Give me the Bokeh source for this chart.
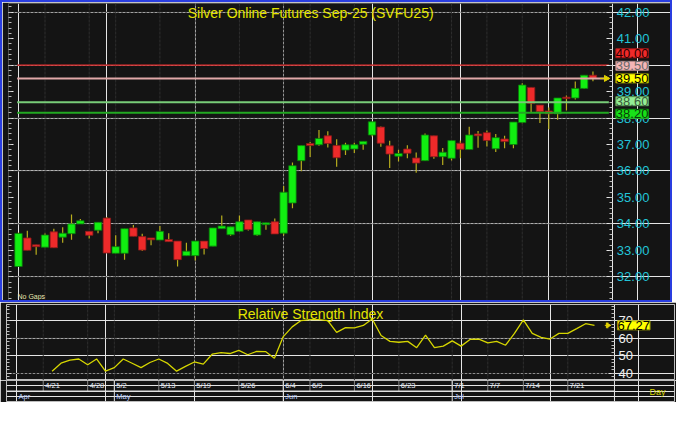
import numpy as np
from bokeh.plotting import figure
from bokeh.models import (Range1d, LinearAxis, FixedTicker, NumeralTickFormatter,
                          Label, ColumnDataSource, CustomJSTickFormatter)
from bokeh.layouts import column
from bokeh.embed import file_html
from bokeh.resources import INLINE
from bokeh.core.properties import value

# ---------------- data ----------------
title_text = "Silver Online Futures Sep-25 (SVFU25)"
rsi_title = "Relative Strength Index"

opens = [32.39, 33.47, 33.21, 33.12, 33.70, 33.50, 33.63, 34.00, 33.72, 33.76,
         34.22, 32.89, 32.89, 33.85, 33.52, 33.47, 33.39, 33.41, 33.35, 32.80,
         32.80, 33.35, 33.16, 33.82, 33.59, 33.72, 34.15, 33.58, 33.97, 34.08,
         33.65, 34.79, 36.39, 37.04, 36.99, 37.33, 36.96, 36.79, 36.83, 37.01,
         37.36, 37.66, 36.95, 36.56, 36.83, 36.49, 36.39, 37.33, 36.54, 36.48,
         37.05, 36.81, 37.40, 37.45, 36.84, 37.21, 37.00, 37.83, 39.16, 38.49,
         38.27, 38.16, 38.79, 38.76, 39.12, 39.62]
highs = [33.68, 33.74, 33.21, 33.64, 33.82, 33.87, 34.36, 34.19, 33.72, 34.06,
         34.26, 33.57, 33.82, 33.96, 33.63, 33.47, 33.92, 33.65, 33.35, 33.29,
         33.35, 33.35, 33.85, 34.32, 33.89, 34.32, 34.15, 34.08, 34.04, 34.20,
         35.43, 36.32, 36.96, 37.10, 37.55, 37.50, 37.20, 37.07, 37.07, 37.12,
         37.86, 37.68, 37.14, 36.80, 36.97, 36.70, 37.42, 37.33, 36.87, 37.15,
         37.15, 37.67, 37.51, 37.53, 37.40, 37.33, 37.85, 39.32, 39.16, 38.49,
         38.40, 38.76, 38.85, 39.38, 39.62, 39.76]
lows = [32.38, 33.00, 32.83, 33.12, 33.10, 33.29, 33.40, 34.00, 33.45, 33.65,
        32.90, 32.89, 32.65, 33.53, 32.98, 33.19, 33.39, 33.33, 32.39, 32.80,
        32.62, 32.84, 33.16, 33.82, 33.55, 33.70, 33.75, 33.55, 33.78, 33.62,
        33.56, 34.59, 35.99, 36.53, 36.95, 36.89, 36.16, 36.60, 36.68, 36.80,
        37.30, 36.92, 36.11, 36.36, 36.48, 35.93, 36.39, 36.46, 36.23, 36.40,
        36.48, 36.81, 36.88, 36.93, 36.72, 36.86, 36.86, 37.80, 38.23, 37.81,
        37.58, 37.94, 38.29, 38.70, 39.10, 39.39]
closes = [33.64, 33.00, 33.14, 33.58, 33.10, 33.65, 34.00, 34.12, 33.57, 34.06,
          32.90, 33.14, 33.82, 33.53, 33.01, 33.40, 33.72, 33.33, 32.65, 32.97,
          33.35, 33.07, 33.85, 33.92, 33.89, 34.08, 33.79, 34.08, 34.04, 33.62,
          35.20, 36.20, 36.96, 36.96, 37.23, 37.04, 36.50, 36.99, 36.99, 37.12,
          37.86, 37.05, 36.64, 36.66, 36.67, 36.30, 37.36, 36.54, 36.71, 37.15,
          36.82, 37.36, 37.33, 37.15, 37.26, 37.11, 37.85, 39.25, 38.56, 38.24,
          38.16, 38.76, 38.74, 39.12, 39.62, 39.50]

rsi_first_index = 4
rsi_values = [41.3, 45.8, 47.6, 48.2, 44.9, 48.2, 41.3, 43.3, 48.2, 45.8,
              43.3, 46.2, 48.2, 45.7, 41.3, 44.0, 46.5, 45.3, 50.9, 51.8,
              51.3, 53.1, 50.6, 52.5, 52.4, 48.6, 60.9, 66.4, 70.0, 70.5,
              70.5, 70.0, 63.3, 66.0, 65.8, 67.2, 70.9, 61.5, 58.2, 57.7,
              58.2, 54.6, 61.8, 54.6, 55.5, 58.5, 55.5, 59.3, 59.5, 57.3,
              58.2, 56.0, 62.7, 70.4, 62.7, 60.5, 59.5, 62.7, 62.7, 65.4,
              68.2, 67.27]

date_tick_idx = [3, 8, 11, 16, 20, 25, 30, 33, 38, 43, 49, 53, 57, 62]
date_tick_labels = ["4/21", "4/28", "5/2", "5/13", "5/19", "5/26", "6/4", "6/9",
                    "6/16", "6/23", "7/1", "7/7", "7/14", "7/21"]
month_idx = [0, 11, 30, 49]
month_labels = ["Apr", "May", "Jun", "Jul"]

price_ticks = [32, 33, 34, 35, 36, 37, 38, 39, 40, 41, 42]
price_grid = [32, 34, 36, 38, 40, 42]
rsi_ticks = [40, 50, 60, 70]
rsi_grid = [40, 60]

level_prices = [40.0, 39.5, 38.6, 38.2]

# ---------------- styles ----------------
FONT = "Liberation Sans"
BG = "#141414"
GRID = "#2e2e2e"
level_line_colors = ["#e02828", "#e0a8a8", "#78cc78", "#22a822"]
level_line_widths = [1.3, 2, 2, 2]
level_box_fill = ["#f02a2a", "#f4b6b6", "#94ee94", "#18e018"]
level_box_text = ["#2a0000", "#6a6a6a", "#3c5a3c", "#0a3a0a"]
level_box_edge = ["#a01818", "#b08888", "#5aa05a", "#0e9a0e"]
last_box_fill = "#ffff00"

n = len(closes)
xs = np.arange(n)
x_range = Range1d(-1.13, 74.0)
ax_x = xs[-1] + 2.25           # where the value axis sits
x_start = x_range.start
x_mid = (x_start + ax_x) / 2

PRICE_LO, PRICE_HI = 31.03, 42.33
RSI_LO, RSI_HI = 36.0, 79.1


def hgrid(fig, levels):
    fig.segment(x0=[x_start] * len(levels), y0=levels, x1=[ax_x] * len(levels), y1=levels,
                line_color=GRID, line_width=1, line_dash="3 1")


def vgrid(fig, lo, hi):
    k = len(date_tick_idx)
    fig.segment(x0=date_tick_idx, y0=[lo] * k, x1=date_tick_idx, y1=[hi] * k,
                line_color=GRID, line_width=1, line_dash="3 1")


def value_axis(ticks, minor, fmt, color, fixed):
    kw = dict(ticker=FixedTicker(ticks=ticks, minor_ticks=minor),
              axis_line_color="#e6e6e6", major_tick_line_color="#e6e6e6",
              minor_tick_line_color="#bdbdbd", major_tick_in=6, major_tick_out=0,
              minor_tick_in=3, minor_tick_out=0, major_label_standoff=4,
              major_label_text_color=color, major_label_text_font=FONT,
              major_label_text_font_size="13px", fixed_location=fixed)
    if fmt is not None:
        kw["formatter"] = fmt
    return LinearAxis(**kw)


def edge_axis(ticks, minor):
    return LinearAxis(ticker=FixedTicker(ticks=ticks, minor_ticks=minor),
                      formatter=CustomJSTickFormatter(code="return ''"),
                      axis_line_color=None, major_tick_line_color="#e6e6e6",
                      minor_tick_line_color="#bdbdbd", major_tick_in=5, major_tick_out=0,
                      minor_tick_in=3, minor_tick_out=0, major_label_standoff=0,
                      major_label_text_font_size="0px")


def value_box(fig, y, text, fill, tcol, edge):
    fig.add_layout(Label(x=ax_x, y=y, x_offset=3, text=text, text_font=FONT,
                         text_font_size="13px", text_color=tcol, text_baseline="middle",
                         background_fill_color=fill, border_line_color=edge, padding=0))


# ---------------- main price panel ----------------
p = figure(width=672, height=302, x_range=x_range, y_range=Range1d(PRICE_LO, PRICE_HI),
           output_backend="svg", toolbar_location=None,
           x_axis_location=None, y_axis_location=None,
           min_border_left=4, min_border_right=0, min_border_top=1, min_border_bottom=2,
           background_fill_color=BG, border_fill_color=BG, outline_line_color=None,
           styles={"border": "2px solid #2a3ee0"})

vgrid(p, PRICE_LO, PRICE_HI)
hgrid(p, price_grid)

minor_price = [round(v, 2) for v in np.arange(31.2, 42.4, 0.2)]
p.add_layout(value_axis(price_ticks, minor_price, NumeralTickFormatter(format="0.00"),
                        "#22c4d8", ax_x), "right")
p.add_layout(edge_axis(price_ticks, minor_price), "left")

o = np.array(opens); c = np.array(closes)
up = c >= o
src = ColumnDataSource(dict(x=xs, high=highs, low=lows,
                            top=np.maximum(o, c), bottom=np.minimum(o, c),
                            fill=np.where(up, "#11ee11", "#ee2a2a"),
                            edge=np.where(up, "#0a7a0a", "#8a1a1a")))
p.segment("x", "high", "x", "low", source=src, line_color="#b8ae1e", line_width=1.2)
p.vbar(x="x", width=0.84, top="top", bottom="bottom", source=src,
       fill_color="fill", line_color="edge", line_width=0.8)

x_lo = xs[0] - 0.15
x_hi = xs[-1] + 1.8
for lv, col, lw in zip(level_prices, level_line_colors, level_line_widths):
    p.segment(x0=[x_lo], y0=[lv], x1=[x_hi], y1=[lv], line_color=col, line_width=lw)

# last price marker
p.scatter(x=[xs[-1] + 1.5], y=[closes[-1]], marker="triangle", angle=-np.pi / 2,
          size=6, fill_color="#e0d000", line_color="#e0d000")
p.scatter(x=[xs[-1] + 1.2], y=[closes[-1]], marker="dash", size=7, line_color="#e0d000")

# stacked value boxes on the price axis
gap = 0.475
last_val = closes[-1]
box_pos = {}
above = sorted([i for i, v in enumerate(level_prices) if v >= last_val], key=lambda i: level_prices[i])
prev = last_val
for i in above:
    box_pos[i] = max(level_prices[i], prev + gap)
    prev = box_pos[i]
below = sorted([i for i, v in enumerate(level_prices) if v < last_val], key=lambda i: -level_prices[i])
for i in below:
    box_pos[i] = level_prices[i]
for _ in range(60):
    for a, b in zip(below[:-1], below[1:]):
        dd = box_pos[a] - box_pos[b]
        if dd < gap:
            s = (gap - dd) / 2
            box_pos[a] += s
            box_pos[b] -= s
    if below and box_pos[below[0]] > last_val - gap:
        box_pos[below[0]] = last_val - gap

for i, lv in enumerate(level_prices):
    value_box(p, box_pos[i], f"{lv:.2f}", level_box_fill[i], level_box_text[i], level_box_edge[i])
value_box(p, last_val, f"{last_val:.2f}", last_box_fill, "#000000", "#9a9a00")

p.add_layout(Label(x=x_mid, y=PRICE_HI, y_offset=-9, text=title_text, text_align="center",
                   text_baseline="middle", text_font=FONT, text_font_size="14px",
                   text_color="#e4e400"))
p.add_layout(Label(x=x_start, y=PRICE_LO, x_offset=9, y_offset=6, text="No Gaps",
                   text_baseline="middle", text_font=FONT, text_font_size="7px",
                   text_color="#e8e8b0"))

# ---------------- RSI panel ----------------
r = figure(width=676, height=78, x_range=x_range, y_range=Range1d(RSI_LO, RSI_HI),
           output_backend="svg", toolbar_location=None,
           x_axis_location=None, y_axis_location=None,
           min_border_left=6, min_border_right=2, min_border_top=2, min_border_bottom=0,
           background_fill_color=BG, border_fill_color=BG, outline_line_color="#bdbdbd")
vgrid(r, RSI_LO, RSI_HI)
hgrid(r, rsi_grid)
minor_rsi = list(range(36, 80, 2))
r.add_layout(value_axis(rsi_ticks, minor_rsi, None, "#eeeeee", ax_x), "right")
r.add_layout(edge_axis(rsi_ticks, minor_rsi), "left")

rx = np.arange(rsi_first_index, rsi_first_index + len(rsi_values))
r.line(rx, rsi_values, line_color="#d6d600", line_width=1.3)
r.add_layout(Label(x=x_mid, y=RSI_HI, y_offset=-9.5, text=rsi_title, text_align="center",
                   text_baseline="middle", text_font=FONT, text_font_size="14px",
                   text_color="#e4e400"))
r.scatter(x=[rx[-1] + 1.5], y=[rsi_values[-1]], marker="triangle", angle=-np.pi / 2,
          size=5, fill_color="#e0d000", line_color="#e0d000")
r.scatter(x=[rx[-1] + 1.5], y=[rsi_values[-1]], marker="cross", size=6, line_color="#e0d000")
value_box(r, rsi_values[-1], f"{rsi_values[-1]:.2f}", last_box_fill, "#000000", "#9a9a00")

# ---------------- date rows ----------------
d = figure(width=676, height=22, x_range=x_range, y_range=Range1d(0, 2),
           output_backend="svg", toolbar_location=None,
           x_axis_location=None, y_axis_location=None,
           min_border_left=6, min_border_right=2, min_border_top=0, min_border_bottom=1,
           background_fill_color=BG, border_fill_color=BG, outline_line_color="#bdbdbd")
d.segment(x0=date_tick_idx, y0=[1] * len(date_tick_idx), x1=date_tick_idx,
          y1=[2] * len(date_tick_idx), line_color="#8a8a8a", line_width=1)
d.segment(x0=month_idx[1:], y0=[0] * (len(month_idx) - 1), x1=month_idx[1:],
          y1=[2] * (len(month_idx) - 1), line_color="#e0e0e0", line_width=1)
d.segment(x0=[x_start], y0=[1], x1=[ax_x], y1=[1], line_color="#e0e0e0", line_width=1)
d.segment(x0=[ax_x], y0=[0], x1=[ax_x], y1=[2], line_color="#e6e6e6", line_width=1)
d.text(x=date_tick_idx, y=[1.5] * len(date_tick_idx), text=date_tick_labels, x_offset=2,
       text_font=value(FONT), text_font_size="7.5px", text_color="#e4eaf6",
       text_baseline="middle", text_align="left")
d.text(x=month_idx, y=[0.5] * len(month_idx), text=month_labels, x_offset=2,
       text_font=value(FONT), text_font_size="7.5px", text_color="#bcd0ff",
       text_baseline="middle", text_align="left")
d.add_layout(Label(x=ax_x, y=0.9, x_offset=35, text="Day", text_font=FONT,
                   text_font_size="9px", text_color="#d8d800", text_baseline="middle"))

layout = column(p, r, d, spacing=0)
open("out.html", "w").write(file_html(layout, INLINE))
